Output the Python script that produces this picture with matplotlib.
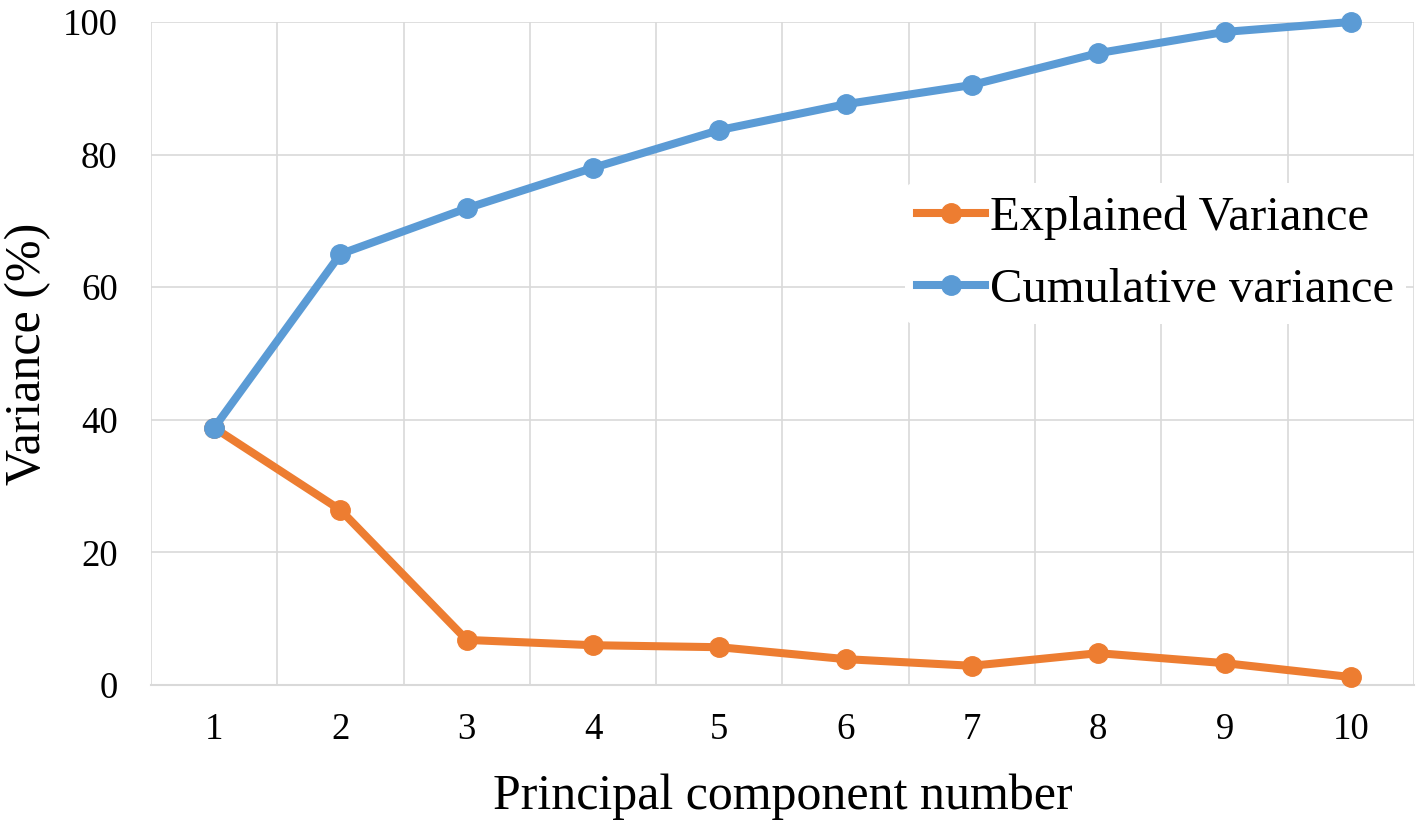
import matplotlib
matplotlib.use("Agg")
import matplotlib.pyplot as plt

components = [1, 2, 3, 4, 5, 6, 7, 8, 9, 10]
explained = [38.8, 26.4, 6.8, 6.0, 5.7, 3.9, 2.9, 4.8, 3.3, 1.2]
cumulative = [38.8, 65.0, 71.9, 78.0, 83.7, 87.6, 90.5, 95.3, 98.5, 100.0]
yticks = [0, 20, 40, 60, 80, 100]

plt.rcParams['font.family'] = ['Liberation Serif', 'DejaVu Serif']

fig = plt.figure(figsize=(14.21, 8.21), dpi=100)
ax = fig.add_axes([151/1421, 1-685/821, (1414-151)/1421, (685-22)/821])

orange = '#ED7D31'
blue = '#5B9BD5'
grid = '#D9D9D9'

ax.plot(components, explained, color=orange, lw=5.8, marker='o', ms=14,
        label='Explained Variance', zorder=3, clip_on=False)
ax.plot(components, cumulative, color=blue, lw=5.8, marker='o', ms=14,
        label='Cumulative variance', zorder=4, clip_on=False)

ax.set_xlim(0.5, 10.5)
ax.set_ylim(0, 100)
ax.set_xticks(components)
ax.set_xticks([c - 0.5 for c in components] + [10.5], minor=True)
ax.set_yticks(yticks)
ax.tick_params(axis='both', which='both', length=0, labelsize=26.5)
ax.tick_params(axis='x', pad=20)
ax.tick_params(axis='y', pad=24)
ax.grid(True, which='minor', axis='x', color=grid, lw=1.2, zorder=0)
ax.grid(True, which='major', axis='y', color=grid, lw=1.2, zorder=0)
for s in ['top', 'right', 'left']:
    ax.spines[s].set_visible(False)
ax.spines['bottom'].set_color(grid)
ax.spines['bottom'].set_linewidth(1.5)

ax.set_xlabel('Principal component number', fontsize=36, labelpad=19)
ax.set_ylabel('Variance (%)', fontsize=36, labelpad=8)

leg = ax.legend(loc='upper left', bbox_to_anchor=(905/1421, 1-183/821),
                bbox_transform=fig.transFigure, fontsize=35, frameon=True,
                facecolor='white', edgecolor='none', framealpha=1,
                handlelength=1.4, handletextpad=0.1, labelspacing=0.58,
                borderpad=0.25, borderaxespad=0)
leg.set_zorder(5)

fig.savefig('out.png', dpi=100)
